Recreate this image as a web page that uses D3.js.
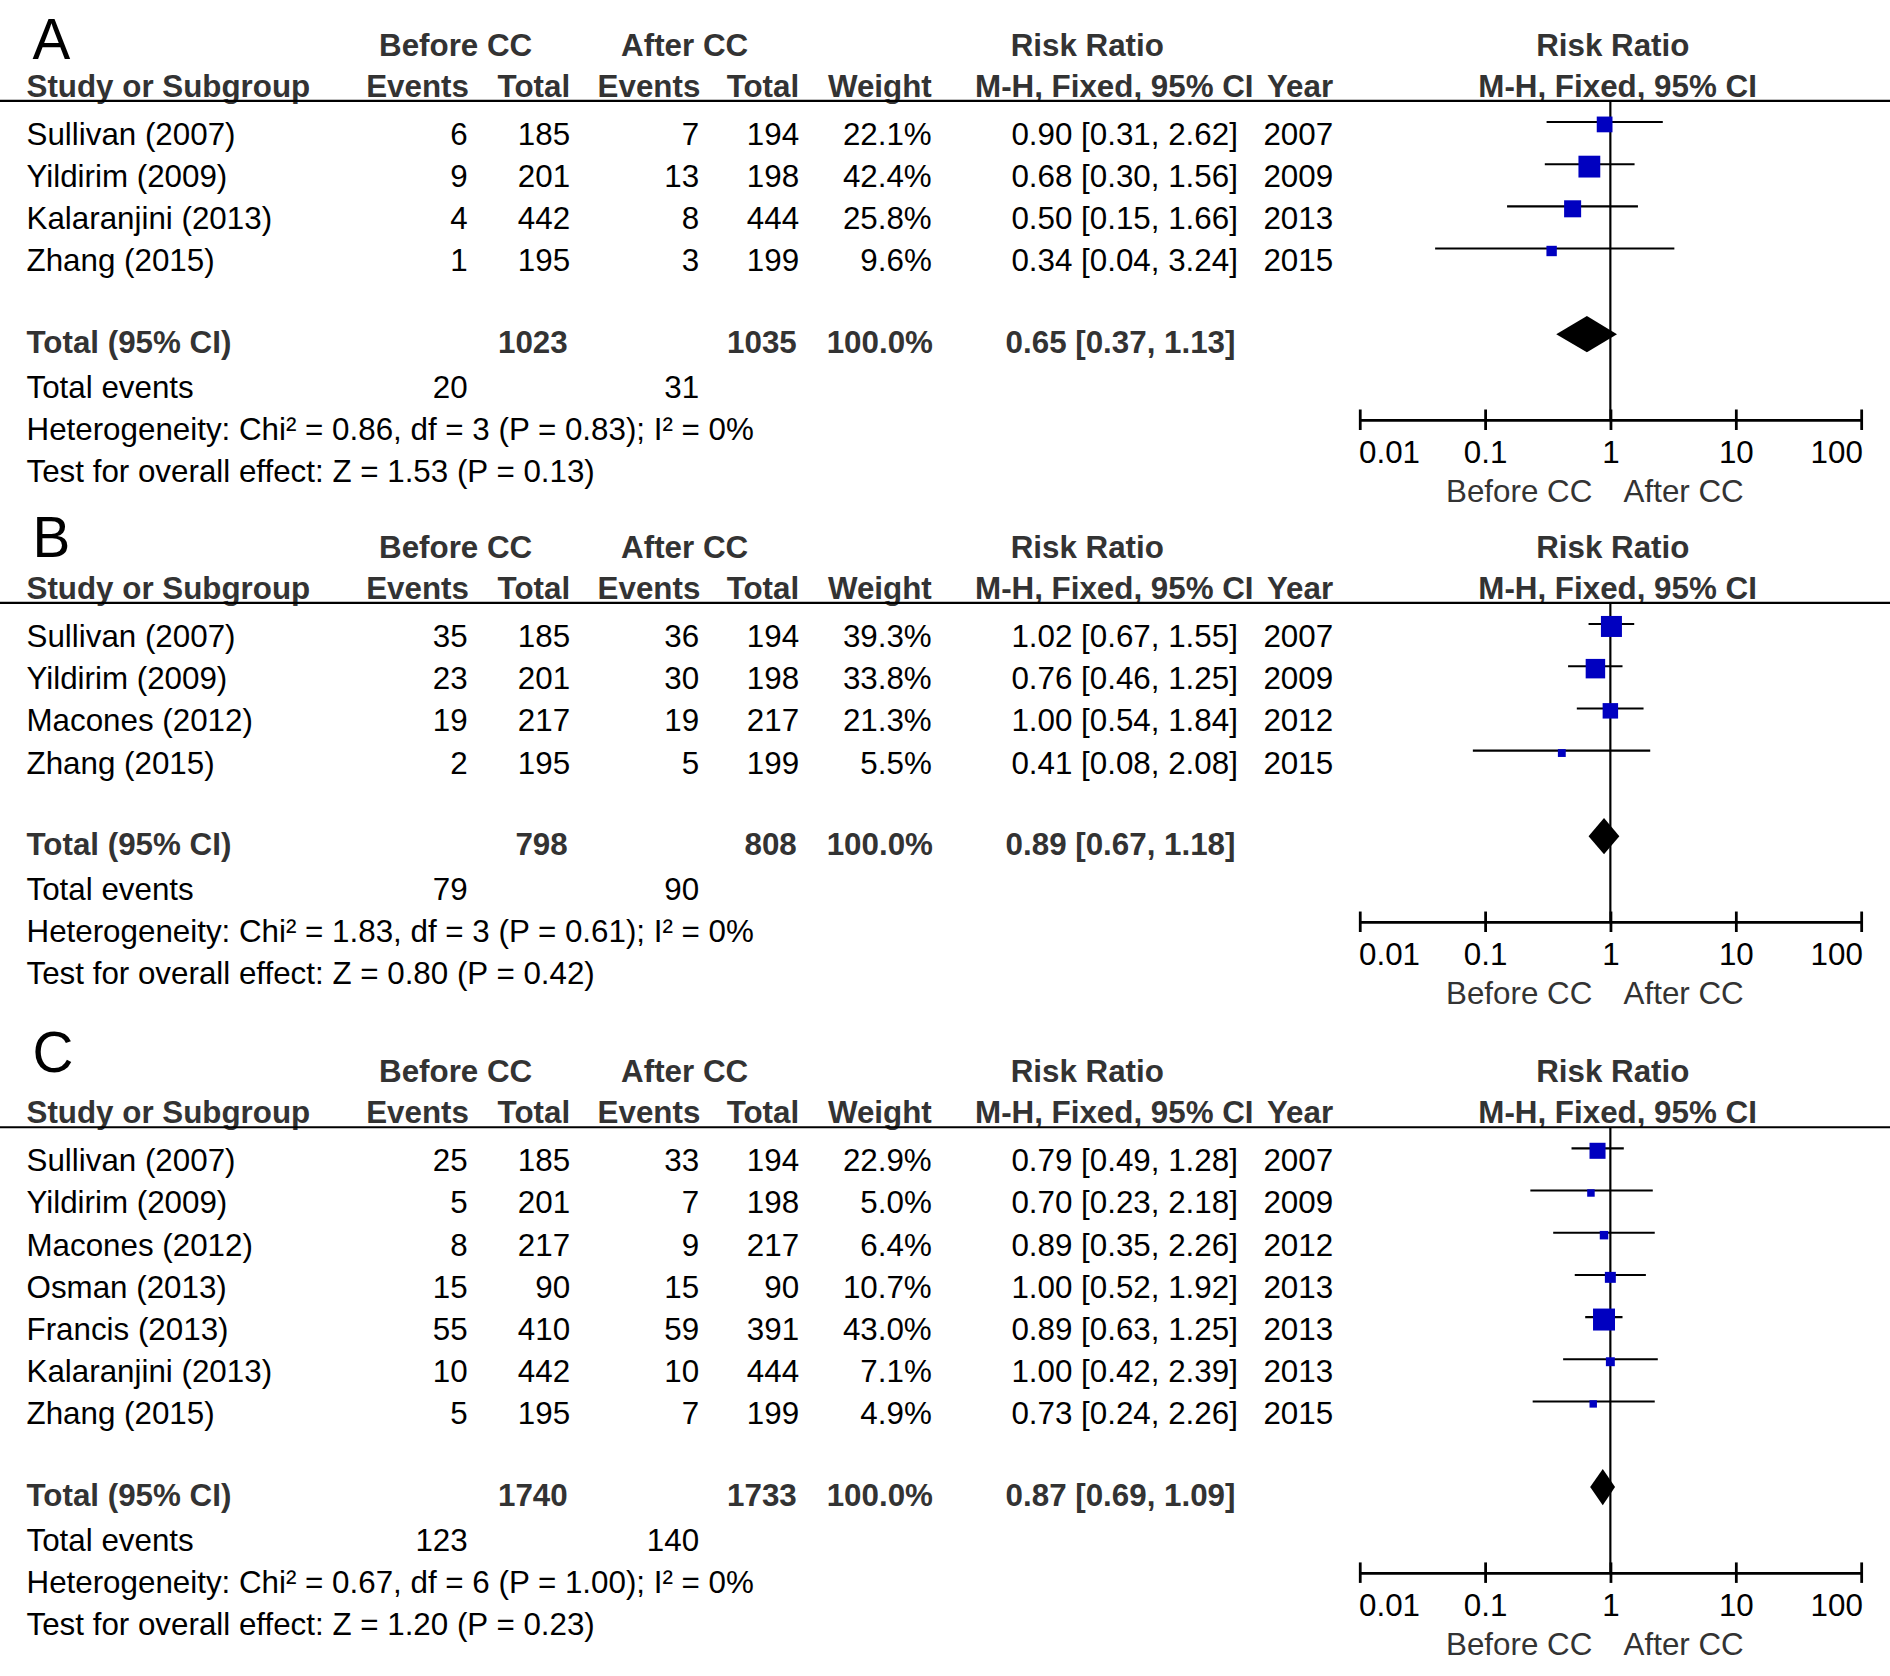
<!DOCTYPE html>
<html>
<head>
<meta charset="utf-8">
<script src="https://cdn.jsdelivr.net/npm/d3@7"></script>
<style>
  body{margin:0;background:#fff;}
  text{font-family:"Liberation Sans",Arial,sans-serif;}
</style>
</head>
<body>
<svg id="chart"></svg>
<script>
// rows: study, before events, before total, after events, after total, weight %, RR, lower, upper, year
var rowsA=[
  ["Sullivan (2007)",6,185,7,194,22.1,0.90,0.31,2.62,2007],
  ["Yildirim (2009)",9,201,13,198,42.4,0.68,0.30,1.56,2009],
  ["Kalaranjini (2013)",4,442,8,444,25.8,0.50,0.15,1.66,2013],
  ["Zhang (2015)",1,195,3,199,9.6,0.34,0.04,3.24,2015]
];
var rowsB=[
  ["Sullivan (2007)",35,185,36,194,39.3,1.02,0.67,1.55,2007],
  ["Yildirim (2009)",23,201,30,198,33.8,0.76,0.46,1.25,2009],
  ["Macones (2012)",19,217,19,217,21.3,1.00,0.54,1.84,2012],
  ["Zhang (2015)",2,195,5,199,5.5,0.41,0.08,2.08,2015]
];
var rowsC=[
  ["Sullivan (2007)",25,185,33,194,22.9,0.79,0.49,1.28,2007],
  ["Yildirim (2009)",5,201,7,198,5.0,0.70,0.23,2.18,2009],
  ["Macones (2012)",8,217,9,217,6.4,0.89,0.35,2.26,2012],
  ["Osman (2013)",15,90,15,90,10.7,1.00,0.52,1.92,2013],
  ["Francis (2013)",55,410,59,391,43.0,0.89,0.63,1.25,2013],
  ["Kalaranjini (2013)",10,442,10,444,7.1,1.00,0.42,2.39,2013],
  ["Zhang (2015)",5,195,7,199,4.9,0.73,0.24,2.26,2015]
];
// totals: before total, after total, weight, RR, lower, upper
var totalA=[1023,1035,100.0,0.65,0.37,1.13];
var totalB=[798,808,100.0,0.89,0.67,1.18];
var totalC=[1740,1733,100.0,0.87,0.69,1.09];
var eventsA=[20,31];
var eventsB=[79,90];
var eventsC=[123,140];
var hetText=[
  "Heterogeneity: Chi\u00b2 = 0.86, df = 3 (P = 0.83); I\u00b2 = 0%",
  "Heterogeneity: Chi\u00b2 = 1.83, df = 3 (P = 0.61); I\u00b2 = 0%",
  "Heterogeneity: Chi\u00b2 = 0.67, df = 6 (P = 1.00); I\u00b2 = 0%"
];
var testText=[
  "Test for overall effect: Z = 1.53 (P = 0.13)",
  "Test for overall effect: Z = 0.80 (P = 0.42)",
  "Test for overall effect: Z = 1.20 (P = 0.23)"
];
var panelLetters=["A","B","C"];
var tickVals=[0.01,0.1,1,10,100];
var tickLabels=["0.01","0.1","1","10","100"];

var W=1568,H=1390;
var svg=d3.select("#chart")
          .attr("width",1890)
          .attr("height",1676)
          .attr("viewBox","0 0 "+W+" "+H);

var x=d3.scaleLog().domain([0.01,100]).range([1128,1544]);
var sq=d3.scaleSqrt().domain([0,100]).range([0,27.8]);
var f2=d3.format(".2f"), f1=d3.format(".1f");
var rrText=function(r,l,u){return f2(r)+" ["+f2(l)+", "+f2(u)+"]";};

// column right edges
var col={be:388,bt:473,ae:580,at:663,w:773,rr:1027,yr:1106};

var drawPanel=function(rows,total,events,idx,L,letterOff)
{
  var g=svg.append("g");
  var n=rows.length;
  var fs=26;
  var txt=function(s,xx,yy,anchor,bold,color,size){
    return g.append("text").attr("x",xx).attr("y",yy)
      .attr("text-anchor",anchor||"start")
      .attr("font-size",size||fs)
      .attr("font-weight",bold?"bold":"normal")
      .attr("fill",color||"#000")
      .text(s);
  };
  txt(panelLetters[idx],27,L+letterOff,"start",false,"#000",47);

  // headers
  var h1=L-37.5, h2=L-3.5, hc="#333";
  txt("Before CC",378,h1,"middle",true,hc);
  txt("After CC",568,h1,"middle",true,hc);
  txt("Risk Ratio",902,h1,"middle",true,hc);
  txt("Risk Ratio",1338,h1,"middle",true,hc);
  txt("Study or Subgroup",22,h2,"start",true,hc);
  txt("Events",col.be+1,h2,"end",true,hc);
  txt("Total",col.bt,h2,"end",true,hc);
  txt("Events",col.ae+1,h2,"end",true,hc);
  txt("Total",col.at,h2,"end",true,hc);
  txt("Weight",col.w,h2,"end",true,hc);
  txt("M-H, Fixed, 95% CI",1040,h2,"end",true,hc);
  txt("Year",col.yr,h2,"end",true,hc);
  txt("M-H, Fixed, 95% CI",1342,h2,"middle",true,hc);

  g.append("line").attr("x1",0).attr("x2",W).attr("y1",L).attr("y2",L)
   .attr("stroke","#000").attr("stroke-width",1.8);

  var base=function(i){return L+36.5+35*i;};
  var py=function(i){return L+17.5+35*i;};

  var rg=g.selectAll("g.row").data(rows).enter().append("g").classed("row",true);
  rg.each(function(d,i){
    var y=base(i);
    txt(d[0],22,y);
    txt(d[1],col.be,y,"end");
    txt(d[2],col.bt,y,"end");
    txt(d[3],col.ae,y,"end");
    txt(d[4],col.at,y,"end");
    txt(f1(d[5])+"%",col.w,y,"end");
    txt(rrText(d[6],d[7],d[8]),col.rr,y,"end");
    txt(d[9],col.yr,y,"end");
  });

  var TB=base(n-1)+68;
  txt("Total (95% CI)",22,TB,"start",true,hc);
  txt(total[0],col.bt-2,TB,"end",true,hc);
  txt(total[1],col.at-2,TB,"end",true,hc);
  txt(f1(total[2])+"%",col.w+1,TB,"end",true,hc);
  txt(rrText(total[3],total[4],total[5]),col.rr-2,TB,"end",true,hc);
  txt("Total events",22,TB+37);
  txt(events[0],col.be,TB+37,"end");
  txt(events[1],col.ae,TB+37,"end");
  txt(hetText[idx],22,TB+72);
  txt(testText[idx],22,TB+107);

  // forest plot
  var axisY=TB+55;
  g.append("line").attr("x1",x(1)).attr("x2",x(1)).attr("y1",L).attr("y2",axisY)
   .attr("stroke","#000").attr("stroke-width",1.8);

  g.selectAll("line.ci").data(rows).enter().append("line").classed("ci",true)
   .attr("x1",function(d){return x(d[7]);})
   .attr("x2",function(d){return x(d[8]);})
   .attr("y1",function(d,i){return py(i);})
   .attr("y2",function(d,i){return py(i);})
   .attr("stroke","#000").attr("stroke-width",1.7);

  g.selectAll("rect.sq").data(rows).enter().append("rect").classed("sq",true)
   .attr("x",function(d){return x(d[6])-sq(d[5])/2;})
   .attr("y",function(d,i){return py(i)+2-sq(d[5])/2;})
   .attr("width",function(d){return sq(d[5]);})
   .attr("height",function(d){return sq(d[5]);})
   .attr("fill","#0000c0");

  var dy=TB-16;
  g.append("path")
   .attr("d","M"+x(total[4])+","+dy+"L"+x(total[3])+","+(dy-15)+"L"+x(total[5])+","+dy+"L"+x(total[3])+","+(dy+15)+"Z")
   .attr("fill","#000");

  var axis=d3.axisBottom(x).tickValues(tickVals)
             .tickFormat(function(d,i){return tickLabels[i];})
             .tickSizeOuter(0).tickSizeInner(8.5);
  var ag=g.append("g").attr("transform","translate(0,"+axisY+")").call(axis);
  ag.select(".domain").attr("stroke","#000").attr("stroke-width",2.3);
  ag.selectAll(".tick line").attr("y1",-8.5).attr("y2",8.5)
    .attr("stroke","#000").attr("stroke-width",2.3);
  ag.selectAll(".tick text")
    .attr("y",36).attr("dy",0)
    .attr("font-size",fs)
    .attr("font-family","Liberation Sans, Arial, sans-serif")
    .attr("fill","#000")
    .attr("text-anchor",function(d,i){return i==0?"start":(i==tickVals.length-1?"end":"middle");})
    .attr("dx",function(d,i){return i==0?"-1":(i==tickVals.length-1?"1":"0");});

  txt("Before CC",x(1)-15,axisY+68,"end",false,"#333");
  txt("After CC",x(1)+11,axisY+68,"start",false,"#333");
};

drawPanel(rowsA,totalA,eventsA,0,83.5,-35);
drawPanel(rowsB,totalB,eventsB,1,500,-38);
drawPanel(rowsC,totalC,eventsC,2,935,-46);
</script>
</body>
</html>
